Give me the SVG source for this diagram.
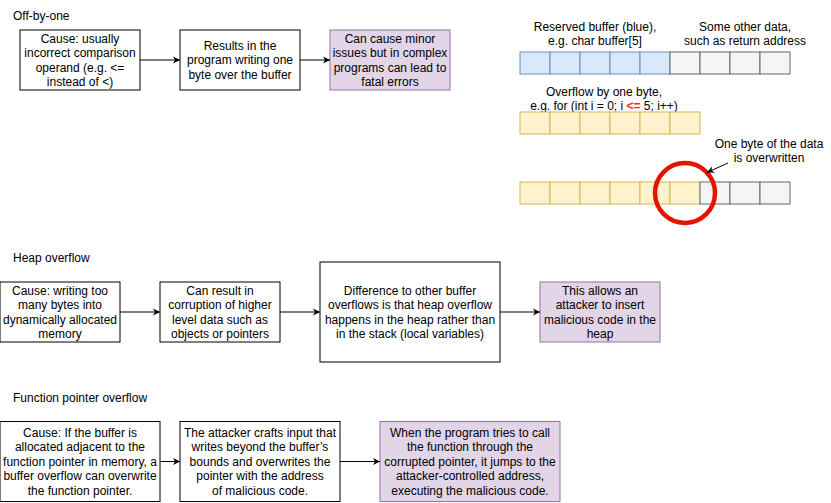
<svg xmlns="http://www.w3.org/2000/svg" width="831" height="503" viewBox="0 0 831 503">
<style>
text{font-family:"Liberation Sans",Arial,sans-serif;font-size:12px;fill:#000}
.c{text-anchor:middle}
.box{fill:#fff;stroke:#000;stroke-width:1}
.pur{fill:#e1d5e7;stroke:#9673a6;stroke-width:1}
.blue{fill:#dae8fc;stroke:#6c8ebf;stroke-width:1}
.grey{fill:#f5f5f5;stroke:#666;stroke-width:1}
.yel{fill:#fff2cc;stroke:#d6b656;stroke-width:1}
.edge{stroke:#000;stroke-width:1;fill:none;marker-end:url(#arr)}
.red{fill:#ff2b00;font-weight:bold}
</style>
<defs>
<marker id="arr" markerWidth="8" markerHeight="8" refX="7" refY="4" orient="auto" markerUnits="userSpaceOnUse">
<path d="M0,0.5 L7,4 L0,7.5 L2,4 Z" fill="#000"/>
</marker>
</defs>
<rect width="831" height="503" fill="#fff"/>

<g id="titles">
<text x="13" y="20">Off-by-one</text>
<text x="13" y="262">Heap overflow</text>
<text x="13" y="402">Function pointer overflow</text>
</g>

<g id="obo1"><rect class="box" x="20" y="30" width="120" height="60"/>
<text class="c" x="80" y="42.7">Cause: usually</text>
<text class="c" x="80" y="57.1">incorrect comparison</text>
<text class="c" x="80" y="71.5">operand (e.g. &lt;=</text>
<text class="c" x="80" y="85.9">instead of &lt;)</text></g>

<g id="obo2"><rect class="box" x="180" y="30" width="120" height="60"/>
<text class="c" x="240" y="49.9">Results in the</text>
<text class="c" x="240" y="64.3">program writing one</text>
<text class="c" x="240" y="78.7">byte over the buffer</text></g>

<g id="obo3"><rect class="pur" x="330" y="30" width="120" height="60"/>
<text class="c" x="390" y="42.7">Can cause minor</text>
<text class="c" x="390" y="57.1">issues but in complex</text>
<text class="c" x="390" y="71.5">programs can lead to</text>
<text class="c" x="390" y="85.9">fatal errors</text></g>

<g id="bufferLabels">
<text class="c" x="595" y="30.5">Reserved buffer (blue),</text>
<text class="c" x="595" y="44.5">e.g. char buffer[5]</text>
<text class="c" x="745" y="30.5">Some other data,</text>
<text class="c" x="745" y="44.5">such as return address</text>
<text class="c" x="604" y="95.5">Overflow by one byte,</text>
<text class="c" x="604" y="110">e.g. for (int i = 0; i <tspan class="red">&lt;=</tspan> 5; i++)</text>
<text class="c" x="769" y="147.5">One byte of the data</text>
<text class="c" x="769" y="161.5">is overwritten</text>
</g>

<g id="row1">
<rect class="blue" x="520" y="52" width="30" height="22"/>
<rect class="blue" x="550" y="52" width="30" height="22"/>
<rect class="blue" x="580" y="52" width="30" height="22"/>
<rect class="blue" x="610" y="52" width="30" height="22"/>
<rect class="blue" x="640" y="52" width="30" height="22"/>
<rect class="grey" x="670" y="52" width="30" height="22"/>
<rect class="grey" x="700" y="52" width="30" height="22"/>
<rect class="grey" x="730" y="52" width="30" height="22"/>
<rect class="grey" x="760" y="52" width="30" height="22"/>
</g>

<g id="row2">
<rect class="yel" x="520" y="112" width="30" height="22"/>
<rect class="yel" x="550" y="112" width="30" height="22"/>
<rect class="yel" x="580" y="112" width="30" height="22"/>
<rect class="yel" x="610" y="112" width="30" height="22"/>
<rect class="yel" x="640" y="112" width="30" height="22"/>
<rect class="yel" x="670" y="112" width="30" height="22"/>
</g>

<g id="row3">
<rect class="yel" x="520" y="182" width="30" height="22"/>
<rect class="yel" x="550" y="182" width="30" height="22"/>
<rect class="yel" x="580" y="182" width="30" height="22"/>
<rect class="yel" x="610" y="182" width="30" height="22"/>
<rect class="yel" x="640" y="182" width="30" height="22"/>
<rect class="yel" x="670" y="182" width="30" height="22"/>
<rect class="grey" x="700" y="182" width="30" height="22"/>
<rect class="grey" x="730" y="182" width="30" height="22"/>
<rect class="grey" x="760" y="182" width="30" height="22"/>
</g>

<g id="circle"><circle cx="685" cy="193" r="30" fill="none" stroke="#e51400" stroke-width="4.5"/></g>

<g id="heap1"><rect class="box" x="0" y="282" width="120" height="60"/>
<text class="c" x="60" y="294.7">Cause: writing too</text>
<text class="c" x="60" y="309.1">many bytes into</text>
<text class="c" x="60" y="323.5">dynamically allocated</text>
<text class="c" x="60" y="337.9">memory</text></g>

<g id="heap2"><rect class="box" x="160" y="282" width="120" height="60"/>
<text class="c" x="220" y="294.7">Can result in</text>
<text class="c" x="220" y="309.1">corruption of higher</text>
<text class="c" x="220" y="323.5">level data such as</text>
<text class="c" x="220" y="337.9">objects or pointers</text></g>

<g id="heap3"><rect class="box" x="320" y="262" width="180" height="100"/>
<text class="c" x="410" y="294.7">Difference to other buffer</text>
<text class="c" x="410" y="309.1">overflows is that heap overflow</text>
<text class="c" x="410" y="323.5">happens in the heap rather than</text>
<text class="c" x="410" y="337.9">in the stack (local variables)</text></g>

<g id="heap4"><rect class="pur" x="540" y="282" width="120" height="60"/>
<text class="c" x="600" y="294.7">This allows an</text>
<text class="c" x="600" y="309.1">attacker to insert</text>
<text class="c" x="600" y="323.5">malicious code in the</text>
<text class="c" x="600" y="337.9">heap</text></g>

<g id="fp1"><rect class="box" x="0" y="421.5" width="160" height="80"/>
<text class="c" x="80" y="437">Cause: If the buffer is</text>
<text class="c" x="80" y="451.4">allocated adjacent to the</text>
<text class="c" x="80" y="465.8">function pointer in memory, a</text>
<text class="c" x="80" y="480.2">buffer overflow can overwrite</text>
<text class="c" x="80" y="494.6">the function pointer.</text></g>

<g id="fp2"><rect class="box" x="180" y="421.5" width="160" height="80"/>
<text class="c" x="260" y="437">The attacker crafts input that</text>
<text class="c" x="260" y="451.4">writes beyond the buffer’s</text>
<text class="c" x="260" y="465.8">bounds and overwrites the</text>
<text class="c" x="260" y="480.2">pointer with the address</text>
<text class="c" x="260" y="494.6">of malicious code.</text></g>

<g id="fp3"><rect class="pur" x="380" y="421.5" width="180" height="80"/>
<text class="c" x="470" y="437">When the program tries to call</text>
<text class="c" x="470" y="451.4">the function through the</text>
<text class="c" x="470" y="465.8">corrupted pointer, it jumps to the</text>
<text class="c" x="470" y="480.2">attacker-controlled address,</text>
<text class="c" x="470" y="494.6">executing the malicious code.</text></g>

<g id="connectors">
<line class="edge" x1="140" y1="60" x2="180" y2="60"/>
<line class="edge" x1="300" y1="60" x2="330" y2="60"/>
<line class="edge" x1="120" y1="312" x2="160" y2="312"/>
<line class="edge" x1="280" y1="312" x2="320" y2="312"/>
<line class="edge" x1="500" y1="312" x2="540" y2="312"/>
<line class="edge" x1="160" y1="461.5" x2="180" y2="461.5"/>
<line class="edge" x1="340" y1="461.5" x2="380" y2="461.5"/>
<line class="edge" x1="728" y1="163" x2="707" y2="172.5"/>
</g>
</svg>
